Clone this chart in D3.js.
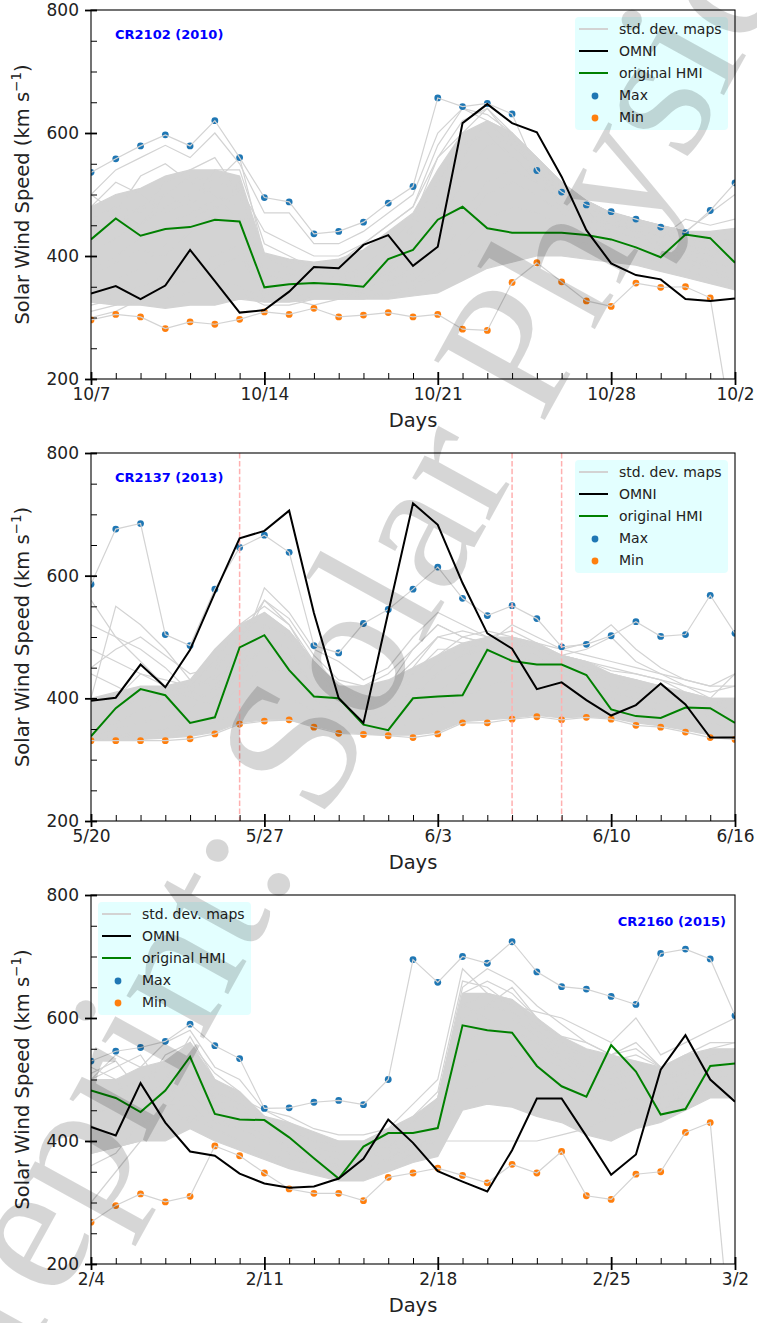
<!DOCTYPE html>
<html><head><meta charset="utf-8">
<script src="https://cdn.jsdelivr.net/npm/d3@7"></script>
<style>
body{margin:0;background:#fff}
svg{display:block}
</style>
</head><body>
<svg id="c" width="757" height="1323"></svg>
<script>
// ---------------- data (km/s, one value per day) ----------------
const days = [0,1,2,3,4,5,6,7,8,9,10,11,12,13,14,15,16,17,18,19,20,21,22,23,24,25,26];
const yTicks = [200,400,600,800];
const xTickDays = [0,7,14,21,26];

// Panel 1: CR2102 (2010)
const p1Title = "CR2102 (2010)";
const p1TickLabels = ["10/7","10/14","10/21","10/28","10/2"];
const p1Max  = [536,558,579,597,579,620,560,495,488,436,440,455,486,513,657,643,648,631,539,504,483,472,460,447,438,474,519];
const p1Min  = [296,305,301,282,293,289,297,309,305,315,301,304,308,301,305,281,279,357,389,358,327,318,356,349,350,332,90];
const p1Omni = [339,351,330,352,410,359,308,312,342,382,380,418,434,384,415,616,647,616,601,529,442,388,369,362,330,327,331];
const p1Hmi  = [427,461,433,444,447,459,456,349,354,356,354,350,395,410,459,480,445,438,438,438,434,427,414,398,435,429,389];
const p1BandLo = [325,320,320,315,320,320,330,325,325,330,330,330,330,335,340,360,380,390,400,400,395,390,385,375,365,355,345];
const p1BandHi = [480,500,510,530,540,540,530,405,395,390,395,410,440,470,540,600,620,600,560,520,490,470,460,450,440,440,445];
const p1Ens = [
 [480,520,500,470,490,540,540,420,400,380,370,380,420,460,560,620,640,600,560,520,480,460,450,440,430,420,430],
 [400,430,450,480,500,500,480,360,350,350,345,350,380,420,500,580,600,580,540,500,470,450,445,430,420,410,400],
 [350,360,380,420,460,480,470,340,335,340,340,345,360,380,450,520,560,560,520,490,460,440,430,420,405,390,380],
 [330,340,350,370,380,400,420,330,330,335,335,340,350,360,400,450,500,520,500,470,450,430,420,410,395,380,370],
 [450,470,530,550,520,500,460,380,370,360,360,370,400,440,520,600,640,590,540,500,470,455,445,430,420,430,440],
 [370,390,410,400,440,470,520,350,345,345,345,355,370,400,470,560,620,600,560,510,480,460,450,440,420,400,390],
 [500,540,560,580,560,600,550,470,470,420,420,440,470,500,600,640,630,600,520,490,470,455,440,430,460,450,460],
 [320,330,330,330,340,340,340,320,320,330,330,335,340,345,370,400,420,440,440,430,420,410,400,390,380,360,350],
 [460,480,470,520,540,560,500,400,390,380,390,420,450,480,580,640,620,580,540,510,490,470,460,450,440,470,500],
 [300,310,330,350,360,380,400,340,330,320,330,330,340,350,380,420,460,480,470,450,430,420,410,400,390,370,360],
 [420,450,480,500,530,520,510,440,420,400,400,420,450,480,560,600,600,560,530,500,480,465,455,445,435,430,420],
 [380,400,430,450,470,490,500,370,360,350,350,360,390,420,480,540,580,590,560,520,490,470,460,450,440,430,430],
 [500,470,450,500,480,520,560,400,380,370,365,375,400,450,520,580,600,560,520,480,460,450,440,420,410,400,410],
 [310,320,340,360,380,360,350,330,330,335,335,345,360,370,420,470,520,540,520,490,460,440,430,415,400,380,360]
];

// Panel 2: CR2137 (2013)
const p2Title = "CR2137 (2013)";
const p2TickLabels = ["5/20","5/27","6/3","6/10","6/16"];
const p2Max  = [586,676,685,504,486,578,646,666,638,486,474,522,545,578,614,563,535,551,530,484,488,502,525,501,504,568,506];
const p2Min  = [331,331,331,331,334,342,358,363,365,353,343,341,339,336,342,360,360,366,370,365,369,366,356,353,345,336,333];
const p2Omni = [396,401,455,418,479,572,661,673,706,539,400,360,540,718,683,588,506,481,415,426,397,372,389,424,390,336,336];
const p2Hmi  = [338,384,415,405,360,369,483,503,446,403,400,357,348,400,403,405,479,461,455,455,438,382,371,368,385,384,360];
const p2BandLo = [333,333,333,335,338,345,360,365,365,355,345,342,340,340,345,362,365,368,372,368,370,368,360,355,348,340,336];
const p2BandHi = [400,410,420,420,430,480,520,540,510,460,420,420,430,450,470,490,500,500,490,470,460,440,430,420,410,400,400];
const p2Ens = [
 [400,550,520,480,430,420,470,580,540,480,460,430,450,500,540,520,500,510,490,470,460,450,440,430,420,410,420],
 [360,380,400,410,420,460,520,550,520,450,400,390,400,430,470,500,510,500,480,460,450,430,430,420,400,390,400],
 [340,350,360,370,380,420,480,500,480,420,380,370,380,400,440,470,480,480,470,450,440,420,410,400,390,380,370],
 [335,340,345,350,360,380,420,450,440,400,370,360,370,380,410,440,460,470,460,440,430,410,400,390,380,370,360],
 [480,460,440,420,400,390,450,520,500,440,400,400,420,460,500,490,480,490,480,470,480,500,460,440,420,400,440],
 [520,500,480,450,410,400,440,490,470,420,390,380,400,440,480,480,470,480,470,450,440,430,420,410,400,390,380],
 [333,335,340,345,350,360,380,400,400,380,360,350,350,360,380,400,420,430,430,420,410,400,390,380,370,360,350],
 [440,420,400,400,410,440,500,540,510,460,420,410,410,420,460,480,490,495,480,460,450,440,430,415,400,395,390],
 [560,500,460,420,400,410,480,560,520,460,420,400,420,480,520,500,490,520,500,480,470,460,450,440,430,420,440],
 [380,400,440,430,420,430,470,520,500,450,410,400,410,450,500,510,500,490,480,470,460,445,440,430,410,400,400],
 [450,480,500,470,440,450,500,560,530,470,430,420,440,480,520,500,490,500,490,480,490,520,480,450,430,420,420],
 [350,360,380,400,400,410,450,480,460,420,390,380,390,410,440,470,480,490,480,460,450,440,420,410,400,390,380]
];
const p2Marks = [6,17,19];

// Panel 3: CR2160 (2015)
const p3Title = "CR2160 (2015)";
const p3TickLabels = ["2/4","2/11","2/18","2/25","3/2"];
const p3Max  = [530,546,552,562,590,555,534,453,454,463,466,459,500,695,658,700,689,724,675,651,647,635,622,705,712,696,604];
const p3Min  = [268,295,314,301,310,392,376,348,322,315,315,303,341,348,356,344,332,362,348,383,311,305,346,350,414,430,0];
const p3Omni = [423,409,494,430,383,376,347,331,324,326,339,371,435,397,351,334,318,385,469,469,408,345,378,516,572,500,464];
const p3Hmi  = [482,470,447,482,537,444,435,434,406,372,339,391,413,413,421,588,580,576,522,489,472,556,513,443,452,522,526];
const p3BandLo = [380,390,400,400,420,400,385,370,355,345,335,335,350,365,375,450,460,455,440,430,410,400,420,430,450,470,470];
const p3BandHi = [500,500,520,530,560,500,480,440,430,415,400,400,420,440,470,640,640,630,600,570,550,540,530,520,540,550,550];
const p3Ens = [
 [500,520,540,480,560,480,460,440,420,400,390,390,400,430,470,640,660,640,600,560,540,520,530,500,520,540,540],
 [460,480,500,520,540,460,440,420,400,380,370,370,380,400,440,600,620,610,580,550,520,500,510,490,500,520,530],
 [420,440,460,480,500,430,420,400,380,360,350,350,360,380,420,560,580,580,560,530,500,480,490,470,480,500,510],
 [400,410,430,440,460,420,400,380,360,350,340,340,350,370,400,520,540,540,520,500,480,460,470,450,470,490,500],
 [520,500,450,500,570,500,470,450,430,410,400,400,410,440,480,660,650,620,590,570,560,540,560,520,540,560,560],
 [380,390,400,420,440,420,400,380,370,360,360,360,370,390,400,400,400,400,400,410,420,440,450,460,470,480,490],
 [450,470,480,460,520,450,430,410,390,375,360,360,370,390,430,580,600,600,570,540,510,490,500,480,490,510,520],
 [480,460,420,470,530,470,450,430,410,390,380,380,390,420,460,620,640,630,590,560,530,510,520,500,510,530,530],
 [500,540,520,560,580,520,500,450,440,420,410,410,420,460,500,680,640,620,610,600,580,560,600,540,560,580,600],
 [440,460,470,500,520,450,430,410,390,370,355,355,370,400,440,600,580,560,540,520,480,460,470,460,470,490,500],
 [360,380,430,450,480,440,420,400,380,360,350,350,360,380,410,480,500,520,520,500,470,450,460,450,480,500,510],
 [510,530,480,540,560,510,480,440,420,400,395,395,400,430,470,650,680,660,620,590,560,540,550,520,530,550,560],
 [300,350,400,450,500,460,430,410,390,370,360,360,370,400,440,620,600,580,560,540,520,500,520,500,510,520,530],
 [470,480,500,460,430,480,460,430,410,390,380,375,385,410,450,560,620,650,600,560,540,530,540,520,520,540,550]
];

const legendLabels = ["std. dev. maps","OMNI","original HMI","Max","Min"];
const yLabelMain = "Solar Wind Speed (km s";
const yLabelSup = "\u22121";
const xLabel = "Days";
const watermarkText = "Preprint: Solar Physics";

// ---------------- layout ----------------
const svg = d3.select("#c");
const FONT = "'DejaVu Sans', sans-serif";
const X0 = 91, X1 = 735;
const C = {grey:"#d3d3d3", omni:"#000000", hmi:"#008000", max:"#1f77b4", min:"#ff7f0e", mark:"#ffb0b0", leg:"#e3ffff"};

const panels = [
 {top:10,  bottom:379,  title:p1Title, tl:p1TickLabels, max:p1Max, min:p1Min, omni:p1Omni, hmi:p1Hmi, lo:p1BandLo, hi:p1BandHi, ens:p1Ens, marks:[], titlePos:"left", legendPos:"right"},
 {top:453, bottom:821,  title:p2Title, tl:p2TickLabels, max:p2Max, min:p2Min, omni:p2Omni, hmi:p2Hmi, lo:p2BandLo, hi:p2BandHi, ens:p2Ens, marks:p2Marks, titlePos:"left", legendPos:"right"},
 {top:895, bottom:1264, title:p3Title, tl:p3TickLabels, max:p3Max, min:p3Min, omni:p3Omni, hmi:p3Hmi, lo:p3BandLo, hi:p3BandHi, ens:p3Ens, marks:[], titlePos:"right", legendPos:"left"}
];

const x = d3.scaleLinear().domain([0,26]).range([X0,X1]);

panels.forEach((p,i)=>{
  const y = d3.scaleLinear().domain([200,800]).range([p.bottom,p.top]);
  const g = svg.append("g").style("font-family",FONT);
  const cid = "clip"+i;
  g.append("clipPath").attr("id",cid).append("rect")
    .attr("x",X0).attr("y",p.top).attr("width",X1-X0).attr("height",p.bottom-p.top);
  const data = g.append("g").attr("clip-path",`url(#${cid})`);
  const line = d3.line().x((d,k)=>x(days[k])).y(d=>y(d));
  const area = d3.area().x((d,k)=>x(days[k])).y0((d,k)=>y(p.lo[k])).y1((d,k)=>y(p.hi[k]));

  data.append("path").attr("d",area(days)).attr("fill",C.grey).attr("stroke",C.grey).attr("stroke-width",1.2);
  p.ens.forEach(s=>{
    data.append("path").attr("d",line(s)).attr("fill","none").attr("stroke",C.grey).attr("stroke-width",1.2);
  });
  // Max / Min points
  data.selectAll(null).data(p.max).enter().append("circle")
    .attr("cx",(d,k)=>x(days[k])).attr("cy",d=>y(d)).attr("r",3.4).attr("fill",C.max);
  data.selectAll(null).data(p.min).enter().append("circle")
    .attr("cx",(d,k)=>x(days[k])).attr("cy",d=>y(d)).attr("r",3.4).attr("fill",C.min);
  data.append("path").attr("d",line(p.max)).attr("fill","none").attr("stroke",C.grey).attr("stroke-width",1.2);
  data.append("path").attr("d",line(p.min)).attr("fill","none").attr("stroke",C.grey).attr("stroke-width",1.2);
  // vertical dashed markers
  p.marks.forEach(m=>{
    data.append("line").attr("x1",x(m)).attr("x2",x(m)).attr("y1",p.top).attr("y2",p.bottom)
      .attr("stroke",C.mark).attr("stroke-width",1.5).attr("stroke-dasharray","5.5,2.4");
  });
  data.append("path").attr("d",line(p.hmi)).attr("fill","none").attr("stroke",C.hmi).attr("stroke-width",2);
  data.append("path").attr("d",line(p.omni)).attr("fill","none").attr("stroke",C.omni).attr("stroke-width",2);

  // frame
  g.append("rect").attr("x",X0).attr("y",p.top).attr("width",X1-X0).attr("height",p.bottom-p.top)
    .attr("fill","none").attr("stroke","#000").attr("stroke-width",1.1);

  // y axis: major (in+out), minor (in)
  const yMinor = d3.range(250,800,50).filter(v=>v%200!==0);
  const ya = g.append("g").attr("transform",`translate(${X0},0)`)
    .call(d3.axisLeft(y).tickValues(yTicks).tickSize(6).tickPadding(6).tickFormat(d3.format("d")));
  ya.select(".domain").remove();
  ya.selectAll(".tick line").attr("x1",6).attr("x2",-6).attr("stroke","#000").attr("stroke-width",1.8);
  ya.selectAll(".tick text").attr("font-size",17).style("font-family",FONT).attr("fill","#222");
  const ym = g.append("g").attr("transform",`translate(${X0},0)`)
    .call(d3.axisLeft(y).tickValues(yMinor).tickSize(-6).tickFormat(""));
  ym.select(".domain").remove();
  ym.selectAll(".tick line").attr("stroke","#000").attr("stroke-width",1);

  // x axis
  const xa = g.append("g").attr("transform",`translate(0,${p.bottom})`)
    .call(d3.axisBottom(x).tickValues(xTickDays).tickSize(6).tickPadding(3).tickFormat((d,k)=>p.tl[k]));
  xa.select(".domain").remove();
  xa.selectAll(".tick line").attr("y1",-7).attr("y2",6).attr("stroke","#000").attr("stroke-width",1.8);
  xa.selectAll(".tick text").attr("font-size",17).style("font-family",FONT).attr("fill","#222");
  const xMinor = days.filter(d=>!xTickDays.includes(d));
  const xm = g.append("g").attr("transform",`translate(0,${p.bottom})`)
    .call(d3.axisBottom(x).tickValues(xMinor).tickSize(-6).tickFormat(""));
  xm.select(".domain").remove();
  xm.selectAll(".tick line").attr("stroke","#000").attr("stroke-width",1);

  // axis labels
  g.append("text").attr("x",(X0+X1)/2).attr("y",p.bottom+48).attr("text-anchor","middle")
    .attr("font-size",19.5).attr("fill","#222").text(xLabel);
  const cy = (p.top+p.bottom)/2;
  const yl = g.append("text").attr("transform",`translate(29,${cy}) rotate(-90)`)
    .attr("text-anchor","middle").attr("font-size",19.5).attr("fill","#222");
  yl.append("tspan").text(yLabelMain);
  yl.append("tspan").attr("font-size",13.5).attr("dy",-8).text(yLabelSup);
  yl.append("tspan").attr("dy",8).text(")");

  // title
  if(p.titlePos==="left"){
    g.append("text").attr("x",115).attr("y",p.top+29).attr("font-size",13).attr("font-weight","bold")
      .attr("fill","#0000ff").text(p.title);
  } else {
    g.append("text").attr("x",726).attr("y",p.top+31).attr("text-anchor","end").attr("font-size",13).attr("font-weight","bold")
      .attr("fill","#0000ff").text(p.title);
  }

  // legend
  const lx = p.legendPos==="right" ? 575 : 98;
  const ly = p.top + 7;
  const lg = g.append("g").attr("transform",`translate(${lx},${ly})`);
  lg.append("rect").attr("width",153).attr("height",113).attr("rx",4).attr("fill",C.leg);
  const rows = [0,1,2,3,4].map(k=>12+k*22);
  const lcols = [C.grey,C.omni,C.hmi];
  [0,1,2].forEach(k=>{
    lg.append("line").attr("x1",4).attr("x2",33).attr("y1",rows[k]).attr("y2",rows[k])
      .attr("stroke",lcols[k]).attr("stroke-width",2);
  });
  lg.append("circle").attr("cx",20).attr("cy",rows[3]+1).attr("r",3.4).attr("fill",C.max);
  lg.append("circle").attr("cx",20).attr("cy",rows[4]+1).attr("r",3.4).attr("fill",C.min);
  legendLabels.forEach((t,k)=>{
    lg.append("text").attr("x",44).attr("y",rows[k]+5).attr("font-size",14).attr("fill","#222").text(t);
  });
});

// ---------------- watermark ----------------
const wm = svg.append("g").attr("pointer-events","none");
const wt = wm.append("text").text(watermarkText)
  .style("font-family","'Liberation Serif','Times New Roman',serif").attr("font-size",100);
const node = wt.node();
const iS = watermarkText.indexOf("S"), iP = watermarkText.indexOf("P",5);
const eS = node.getExtentOfChar(iS), eP = node.getExtentOfChar(iP);
const sC = [eS.x+eS.width/2, eS.y+eS.height/2], pC = [eP.x+eP.width/2, eP.y+eP.height/2];
const tS = [292,745], tP = [511,348];
const localD = Math.hypot(pC[0]-sC[0], pC[1]-sC[1]);
const targD = Math.hypot(tP[0]-tS[0], tP[1]-tS[1]);
const sc = targD/localD;
const ang = Math.atan2(tP[1]-tS[1], tP[0]-tS[0]) * 180/Math.PI;
const a = ang*Math.PI/180;
const sx = sC[0]*sc, sy = sC[1]*sc;
const rx = sx*Math.cos(a) - sy*Math.sin(a), ry = sx*Math.sin(a) + sy*Math.cos(a);
wt.attr("font-size",100*sc).attr("fill","#000").attr("fill-opacity",0.16)
  .attr("transform",`translate(${tS[0]-rx},${tS[1]-ry}) rotate(${ang})`);
</script>
</body></html>
